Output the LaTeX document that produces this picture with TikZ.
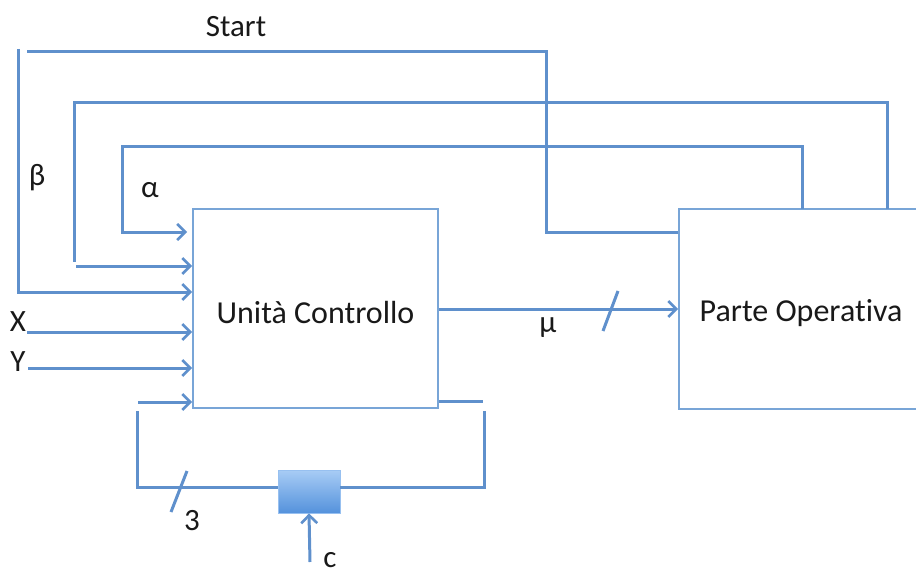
\documentclass[tikz,border=0pt]{standalone}
\usepackage{fontspec}
\setmainfont{Carlito}[Ligatures=NoCommon]
\usetikzlibrary{arrows.meta}
\definecolor{linec}{RGB}{95,144,204}
\definecolor{boxc}{RGB}{120,165,215}
\definecolor{regtop}{RGB}{168,204,245}
\definecolor{regbot}{RGB}{84,146,220}
\definecolor{txt}{RGB}{25,25,25}
\tikzset{
  sig/.style={draw=linec, line width=3pt},
  arr/.style={sig, -{Straight Barb[length=8pt,width=16pt,line width=2.6pt]}},
  blk/.style={draw=boxc, line width=1.8pt, fill=white, inner sep=0pt},
  lbl/.style={text=txt, font=\fontsize{31}{35}\selectfont, inner sep=0pt},
  btxt/.style={text=txt, font=\fontsize{32}{36}\selectfont, inner sep=0pt},
}
\begin{document}
\begin{tikzpicture}[x=1pt,y=-1pt]
\useasboundingbox (0,0) rectangle (916,575);
\clip (0,0) rectangle (916,575);
% blocks
\node[blk, minimum width=245pt, minimum height=199pt] (uc) at (315.5,308.5) {};
\node[btxt] (uctext) at (315.5,313) {Unità Controllo};
\node[blk, minimum width=300pt, minimum height=200pt] (po) at (829,309) {};
\node[btxt] (potext) at (801,313) {Parte Operativa};
\node[draw=regtop!80!regbot, line width=0.8pt, top color=regtop, bottom color=regbot,
      minimum width=62pt, minimum height=43pt, inner sep=0pt] (reg) at (309,491.5) {};
% coordinates
\coordinate (s1) at (546,232);
\coordinate (s2) at (546,52);
\coordinate (s3) at (27,52);
\coordinate (t1) at (18,49);
\coordinate (t2) at (18,292);
\coordinate (b1) at (887,209);
\coordinate (b2) at (887,103);
\coordinate (b3) at (74,103);
\coordinate (b4) at (74,262);
\coordinate (b5) at (76,266);
\coordinate (a1) at (802,209);
\coordinate (a2) at (802,147);
\coordinate (a3) at (122,147);
\coordinate (a4) at (122,232);
\coordinate (a5) at (187,232);
\coordinate (x0) at (27,332);
\coordinate (y0) at (28,368);
\coordinate (f1) at (483,401);
\coordinate (f2) at (484,411);
\coordinate (f3) at (484,487);
\coordinate (f4) at (137,487);
\coordinate (f5) at (137,411);
\coordinate (f6) at (138,402);
\coordinate (c0) at (310,562);
\coordinate (m0) at (438,309);
\coordinate (k1) at (603,331);
\coordinate (k2) at (618,291);
\coordinate (k3) at (171,512);
\coordinate (k4) at (187,471);
% Start
\draw[sig] (po.west |- s1) -- (s1) -- (s2) -- (s3);
\draw[arr] (t1) -- (t2) -- (t2 -| uc.west);
% beta
\draw[sig] (b1) -- (b2) -- (b3) -- (b4);
\draw[arr] (b5) -- (b5 -| uc.west);
% alpha
\draw[arr] (a1) -- (a2) -- (a3) -- (a4) -- (a5);
% X, Y
\draw[arr] (x0) -- (x0 -| uc.west);
\draw[arr] (y0) -- (y0 -| uc.west);
% feedback
\draw[sig] (uc.east |- f1) -- (f1);
\draw[sig] (f2) -- (f3) -- (reg.east |- f3);
\draw[sig] (reg.west |- f4) -- (f4) -- (f5);
\draw[arr] (f6) -- (f6 -| uc.west);
\draw[sig] (k3) -- (k4);
\draw[arr] (c0) -- (reg.south);
% mu
\draw[arr] (uc.east |- m0) -- (po.west |- m0);
\draw[sig] (k1) -- (k2);
% labels
\node[lbl] (lstart) at (236,27) {Start};
\node[lbl] (lbeta) at (37,178) {β};
\node[lbl] (lalpha) at (150,190) {α};
\node[lbl] (lx) at (18,322) {X};
\node[lbl] (ly) at (18,362) {Y};
\node[lbl] (lmu) at (548,328) {μ};
\node[lbl] (l3) at (192,521) {3};
\node[lbl] (lc) at (330,560) {c};
\end{tikzpicture}
\end{document}
